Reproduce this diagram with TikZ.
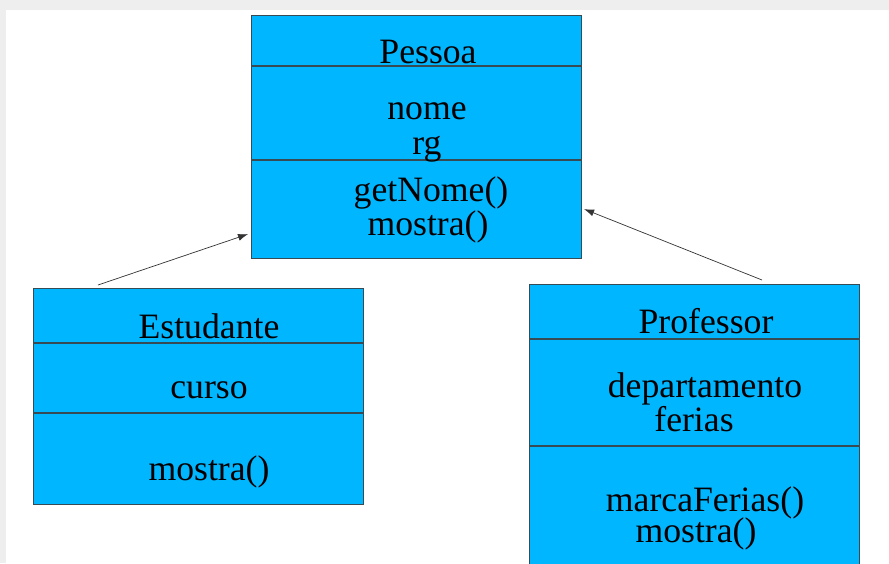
\documentclass[tikz,border=0pt]{standalone}
\usepackage{fontspec}
\setmainfont{Liberation Serif}
\usetikzlibrary{arrows.meta,calc}
\definecolor{umlfill}{RGB}{0,182,255}
\definecolor{umlline}{RGB}{55,75,85}
\definecolor{framegray}{RGB}{238,238,238}
\begin{document}
\begin{tikzpicture}[x=1pt,y=-1pt,
  classbox/.style={draw=umlline,line width=1.1pt,fill=umlfill,rectangle,inner sep=0pt,
    minimum width=330pt,anchor=north west},
  divider/.style={draw=umlline,line width=1.3pt},
  txt/.style={font=\fontsize{35.7}{36}\selectfont,anchor=base,inner sep=0pt,text=black},
  inherit/.style={draw=black!80,line width=0.7pt,-{Latex[length=10pt,width=7pt]}}]
\useasboundingbox (0,0) rectangle (889,563);
\fill[framegray] (0,0) rectangle (889,563);
\fill[white] (6,10) rectangle (889,563);
\begin{scope}
\clip (0,0) rectangle (889,563);
% boxes
\node[classbox,minimum height=243pt] (pessoa) at (251,15) {};
\node[classbox,minimum height=216pt] (estudante) at (33,288) {};
\node[classbox,minimum height=300pt] (professor) at (529,284) {};
\end{scope}
% dividers
\draw[divider] ($(pessoa.north west)+(0,51)$) -- ($(pessoa.north east)+(0,51)$);
\draw[divider] ($(pessoa.north west)+(0,145)$) -- ($(pessoa.north east)+(0,145)$);
\draw[divider] ($(estudante.north west)+(0,55)$) -- ($(estudante.north east)+(0,55)$);
\draw[divider] ($(estudante.north west)+(0,125)$) -- ($(estudante.north east)+(0,125)$);
\draw[divider] ($(professor.north west)+(0,55)$) -- ($(professor.north east)+(0,55)$);
\draw[divider] ($(professor.north west)+(0,162)$) -- ($(professor.north east)+(0,162)$);
% texts
\node[txt] (tpessoa) at (428,63) {Pessoa};
\node[txt] (tnome) at (427,119) {nome};
\node[txt] (trg) at (427,154) {rg};
\node[txt] (tget) at (431,201) {getNome()};
\node[txt] (tmos1) at (428,235) {mostra()};
\node[txt] (testud) at (209,338) {Estudante};
\node[txt] (tcurso) at (209,398) {curso};
\node[txt] (tmos2) at (209,480) {mostra()};
\node[txt] (tprof) at (706,333) {Professor};
\node[txt] (tdep) at (705,397) {departamento};
\node[txt] (tfer) at (694,431) {ferias};
\node[txt] (tmarca) at (705,511) {marcaFerias()};
\node[txt] (tmos3) at (696,542) {mostra()};
% arrows
\coordinate (estfrom) at ($(estudante.north west)+(65,-3)$);
\coordinate (estto) at ($(pessoa.south west)+(-3,-25)$);
\coordinate (proffrom) at ($(professor.north west)+(233,-4)$);
\coordinate (profto) at ($(pessoa.south east)+(2,-50)$);
\draw[inherit] (estfrom) -- (estto);
\draw[inherit] (proffrom) -- (profto);
\end{tikzpicture}
\end{document}
